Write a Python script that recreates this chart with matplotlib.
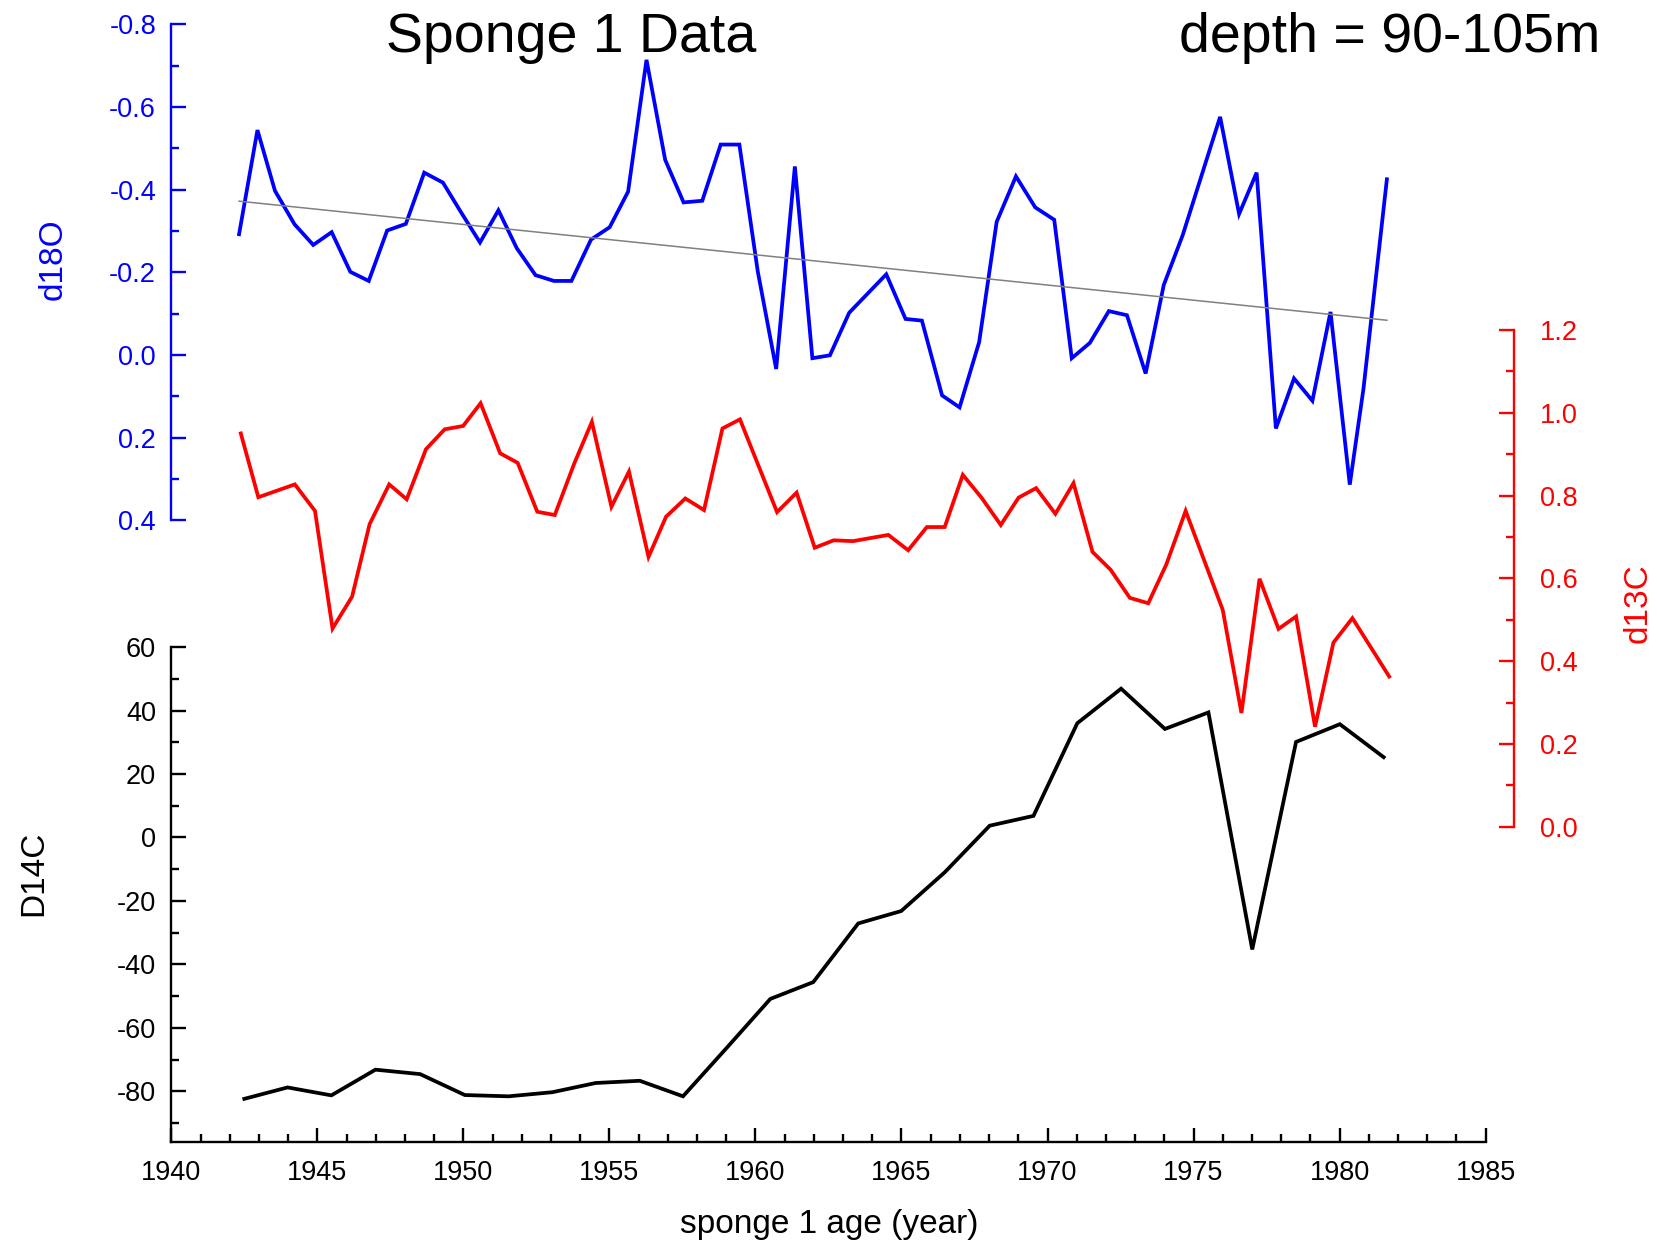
import matplotlib
matplotlib.use("Agg")
import matplotlib.pyplot as plt
import numpy as np
from matplotlib.ticker import MultipleLocator

plt.rcParams['font.family'] = ['Liberation Sans', 'DejaVu Sans']
plt.rcParams['axes.unicode_minus'] = False

# d18O record
d18o_years = [1942.32, 1942.95, 1943.55, 1944.22, 1944.86, 1945.49, 1946.13, 1946.76,
              1947.39, 1948.03, 1948.66, 1949.30, 1949.93, 1950.57, 1951.20, 1951.83,
              1952.47, 1953.10, 1953.70, 1954.37, 1955.01, 1955.64, 1956.27, 1956.91,
              1957.54, 1958.18, 1958.81, 1959.45, 1960.08, 1960.71, 1961.35, 1961.95,
              1962.55, 1963.21, 1963.85, 1964.48, 1965.14, 1965.70, 1966.39, 1966.99,
              1967.66, 1968.26, 1968.92, 1969.58, 1970.23, 1970.83, 1971.45, 1972.10,
              1972.72, 1973.36, 1973.98, 1974.63, 1975.27, 1975.91, 1976.56, 1977.16,
              1977.82, 1978.44, 1979.07, 1979.69, 1980.35, 1980.82, 1981.62]
d18o_values = [-0.292, -0.544, -0.397, -0.316, -0.266, -0.297, -0.201, -0.179,
               -0.301, -0.317, -0.441, -0.417, -0.344, -0.272, -0.350, -0.258,
               -0.193, -0.179, -0.179, -0.279, -0.309, -0.395, -0.714, -0.472,
               -0.369, -0.373, -0.509, -0.509, -0.202, 0.034, -0.456, 0.008,
               0.001, -0.102, -0.149, -0.195, -0.087, -0.083, 0.098, 0.127,
               -0.031, -0.322, -0.432, -0.357, -0.327, 0.008, -0.029, -0.106,
               -0.096, 0.045, -0.169, -0.290, -0.433, -0.576, -0.341, -0.441,
               0.178, 0.057, 0.111, -0.104, 0.314, 0.081, -0.425]

# d13C record
d13c_years = [1942.38, 1942.98, 1944.23, 1944.92, 1945.52, 1946.19, 1946.79, 1947.46,
              1948.06, 1948.72, 1949.36, 1949.99, 1950.59, 1951.26, 1951.86, 1952.53,
              1953.13, 1953.80, 1954.40, 1955.07, 1955.67, 1956.34, 1956.94, 1957.60,
              1958.24, 1958.87, 1959.47, 1960.74, 1961.41, 1962.03, 1962.68, 1963.34,
              1964.55, 1965.23, 1965.87, 1966.48, 1967.10, 1967.74, 1968.40, 1969.01,
              1969.61, 1970.27, 1970.89, 1971.54, 1972.16, 1972.82, 1973.45, 1974.07,
              1974.73, 1976.00, 1976.64, 1977.26, 1977.91, 1978.51, 1979.16, 1979.79,
              1980.44, 1981.70]
d13c_values = [0.950, 0.796, 0.827, 0.763, 0.479, 0.556, 0.731, 0.827,
               0.791, 0.912, 0.960, 0.968, 1.023, 0.902, 0.879, 0.761,
               0.753, 0.878, 0.978, 0.773, 0.858, 0.652, 0.749, 0.793,
               0.765, 0.962, 0.984, 0.760, 0.807, 0.674, 0.692, 0.690,
               0.705, 0.668, 0.724, 0.724, 0.850, 0.795, 0.729, 0.795,
               0.818, 0.756, 0.830, 0.664, 0.621, 0.553, 0.540, 0.634,
               0.763, 0.524, 0.275, 0.599, 0.478, 0.508, 0.242, 0.445,
               0.504, 0.363]

# D14C record
d14c_years = [1942.50, 1943.98, 1945.48, 1946.99, 1948.52, 1950.05, 1951.55, 1953.05,
              1954.53, 1956.04, 1957.52, 1959.00, 1960.51, 1961.98, 1963.52, 1964.99,
              1966.48, 1968.02, 1969.52, 1971.02, 1972.52, 1974.02, 1975.51, 1977.01,
              1978.51, 1980.01, 1981.51]
d14c_values = [-82.4, -78.8, -81.3, -73.2, -74.6, -81.2, -81.6, -80.3,
               -77.4, -76.7, -81.6, -66.5, -50.9, -45.6, -27.1, -23.2,
               -11.0, 3.7, 6.8, 36.0, 46.9, 34.2, 39.4, -35.3,
               30.1, 35.7, 25.3]

W, H = 1658, 1249
fig = plt.figure(figsize=(W / 100, H / 100), dpi=100)


def px_box(left, top, right, bottom):
    # figure-pixel box -> fraction rect
    return [left / W, 1 - bottom / H, (right - left) / W, (bottom - top) / H]


X_LEFT, X_RIGHT = 171.3, 1485.6
tick_fs = 19.5
label_fs = 24
spine_lw = 1.7
data_lw = 2.7


def style_ticks(ax, color, side, pad):
    ax.tick_params(axis='y', which='major', direction='in', length=10.5, width=spine_lw,
                   colors=color, labelsize=tick_fs, pad=pad)
    ax.tick_params(axis='y', which='minor', direction='in', length=5.5, width=spine_lw,
                   colors=color)
    ax.spines[side].set_color(color)
    ax.spines[side].set_linewidth(spine_lw)


# --- bottom panel: D14C ---
ax_c14 = fig.add_axes(px_box(X_LEFT, 647.1, X_RIGHT, 1142))
ax_c14.plot(d14c_years, d14c_values, color='black', lw=data_lw, solid_joinstyle='miter')
ax_c14.set_xlim(1940, 1985)
ax_c14.set_ylim(-96, 60)
for s in ['top', 'right']:
    ax_c14.spines[s].set_visible(False)
ax_c14.spines['bottom'].set_linewidth(spine_lw)
ax_c14.xaxis.set_major_locator(MultipleLocator(5))
ax_c14.xaxis.set_minor_locator(MultipleLocator(1))
ax_c14.yaxis.set_major_locator(MultipleLocator(20))
ax_c14.yaxis.set_minor_locator(MultipleLocator(10))
ax_c14.tick_params(axis='x', which='major', direction='in', length=10, width=spine_lw,
                   labelsize=tick_fs, pad=13)
ax_c14.tick_params(axis='x', which='minor', direction='in', length=6, width=spine_lw)
style_ticks(ax_c14, 'black', 'left', 11)

# --- middle: d13C on right axis ---
ax_c13 = fig.add_axes(px_box(X_LEFT, 329.9, X_RIGHT, 826.9))
ax_c13.patch.set_visible(False)
ax_c13.plot(d13c_years, d13c_values, color='#ff0000', lw=data_lw, solid_joinstyle='miter')
ax_c13.set_xlim(1940, 1985)
ax_c13.set_ylim(0, 1.2)
for s in ['top', 'left', 'bottom']:
    ax_c13.spines[s].set_visible(False)
ax_c13.spines['right'].set_position(('outward', 20.4))
ax_c13.xaxis.set_visible(False)
ax_c13.yaxis.tick_right()
ax_c13.yaxis.set_major_locator(MultipleLocator(0.2))
ax_c13.yaxis.set_minor_locator(MultipleLocator(0.1))
style_ticks(ax_c13, '#ff0000', 'right', 19)

# --- top: d18O (inverted) with linear trend ---
ax_o = fig.add_axes(px_box(X_LEFT, 24.3, X_RIGHT, 520.2))
ax_o.patch.set_visible(False)
ax_o.plot(d18o_years, d18o_values, color='#0000ff', lw=data_lw, solid_joinstyle='miter')
coef = np.polyfit(d18o_years, d18o_values, 1)
trend_x = np.array([d18o_years[0], d18o_years[-1]])
ax_o.plot(trend_x, np.polyval(coef, trend_x), color='#808080', lw=1.1)
ax_o.set_xlim(1940, 1985)
ax_o.set_ylim(0.4, -0.8)
for s in ['top', 'right', 'bottom']:
    ax_o.spines[s].set_visible(False)
ax_o.xaxis.set_visible(False)
ax_o.yaxis.set_major_locator(MultipleLocator(0.2))
ax_o.yaxis.set_minor_locator(MultipleLocator(0.1))
style_ticks(ax_o, '#0000ff', 'left', 11)

# labels and titles
fig.text(53 / W, 1 - 259 / H, 'd18O', color='#0000ff', fontsize=label_fs,
         rotation=90, ha='center', va='center')
fig.text(1638 / W, 1 - 603 / H, 'd13C', color='#ff0000', fontsize=label_fs,
         rotation=90, ha='center', va='center')
fig.text(33.5 / W, 1 - 873 / H, 'D14C', color='black', fontsize=label_fs,
         rotation=90, ha='center', va='center')
fig.text(829 / W, 1 - 1224 / H, 'sponge 1 age (year)', fontsize=label_fs,
         ha='center', va='center')
fig.text(571 / W, 1 - 52 / H, 'Sponge 1 Data', fontsize=40, ha='center', va='baseline')
fig.text(1389.5 / W, 1 - 52 / H, 'depth = 90-105m', fontsize=40, ha='center', va='baseline')

fig.savefig('out.png', dpi=100)
